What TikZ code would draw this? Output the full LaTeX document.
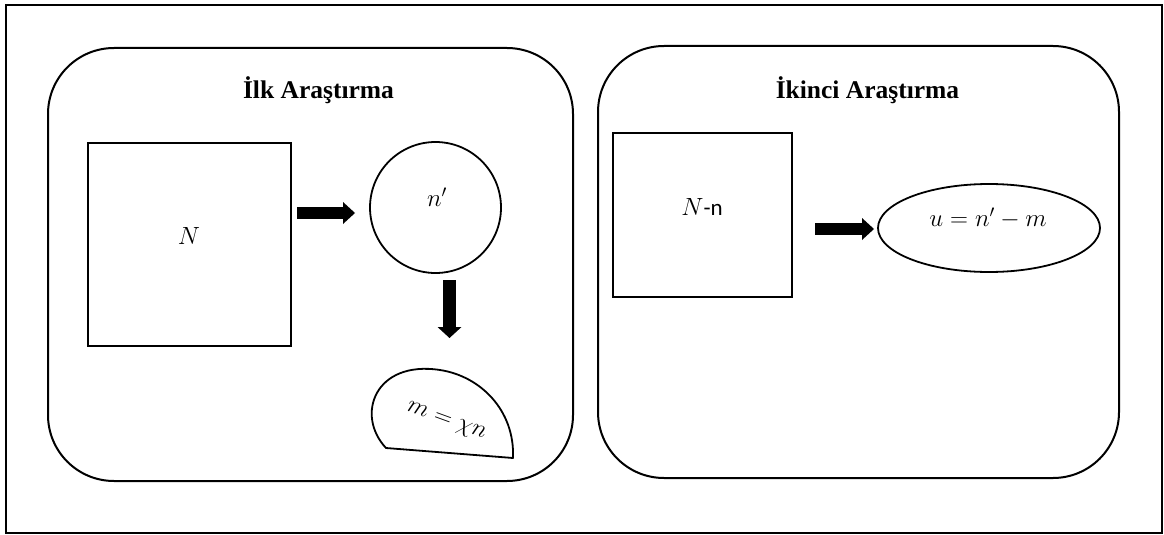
\documentclass[tikz,border=0pt]{standalone}
\usepackage{fontspec}
\setmainfont{Liberation Serif}
\newfontfamily\calib{Carlito}
\usetikzlibrary{arrows.meta,calc,shapes.geometric}
\begin{document}
\begin{tikzpicture}[x=1pt,y=-1pt,
  panel/.style={draw,line width=2pt,rounded corners=66pt,outer sep=0pt,inner sep=0pt},
  sqbox/.style={draw,line width=2pt,outer sep=0pt,inner sep=0pt},
  roundbox/.style={draw,circle,line width=1.8pt,outer sep=0pt,inner sep=0pt},
  ellbox/.style={draw,ellipse,line width=1.8pt,outer sep=0pt,inner sep=0pt},
  titletext/.style={font=\bfseries\fontsize{25.5}{30}\selectfont,inner sep=0pt},
  mathtext/.style={font=\fontsize{23}{27}\selectfont,inner sep=0pt},
  bigarrow/.style={line width=12pt,-{Triangle[length=12pt,width=22pt,line width=0pt]}}
]
\useasboundingbox (0,0) rectangle (1164,535);
\draw[line width=1.6pt] (6,5) rectangle (1162,533);

% panels
\node[panel,minimum width=525pt,minimum height=433pt] (p1) at (310.5,264.5) {};
\node[panel,minimum width=521pt,minimum height=432pt] (p2) at (858.5,262) {};
\node[titletext,anchor=base] (t1) at (318.5,98) {İlk Araştırma};
\node[titletext,anchor=base] (t2) at (867.5,98) {İkinci Araştırma};

% left panel
\node[sqbox,minimum width=203pt,minimum height=203pt] (sq1) at (189.5,244.5) {};
\node[mathtext] (nN) at (189,236) {$N$};
\node[roundbox,minimum size=131pt] (circ) at (435.5,207.5) {};
\node[mathtext] (nprime) at (437,197) {$n'$};
\draw[bigarrow,shorten <=6pt,shorten >=15pt] (sq1.east |- 0,213) -- (circ.west |- 0,213);

\draw[line width=1.8pt,line join=round] (386,448)
  .. controls (355,415) and (375,360) .. (440,370)
  .. controls (480,376) and (515,410) .. (513,458) -- cycle;
\coordinate (mtop) at (449.5,369);
\node[mathtext,rotate=-20,inner sep=0pt] (mlab) at (446,422) {$m=\chi n$};
\draw[bigarrow,line width=13pt,-{Triangle[length=11pt,width=24pt,line width=0pt]},shorten <=7pt,shorten >=31pt] (circ.south -| 449.5,0) -- (mtop);

% right panel
\node[sqbox,minimum width=179pt,minimum height=164pt] (sq2) at (702.5,215) {};
\node[mathtext] (nNn) at (702,207) {$N$\calib -n};
\node[ellbox,minimum width=222pt,minimum height=88pt] (ell) at (989,228) {};
\node[mathtext] (ulab) at (988,218) {$u = n' - m$};
\draw[bigarrow,shorten <=23pt,shorten >=4pt] (sq2.east |- 0,229) -- (ell.west |- 0,229);
\end{tikzpicture}
\end{document}
